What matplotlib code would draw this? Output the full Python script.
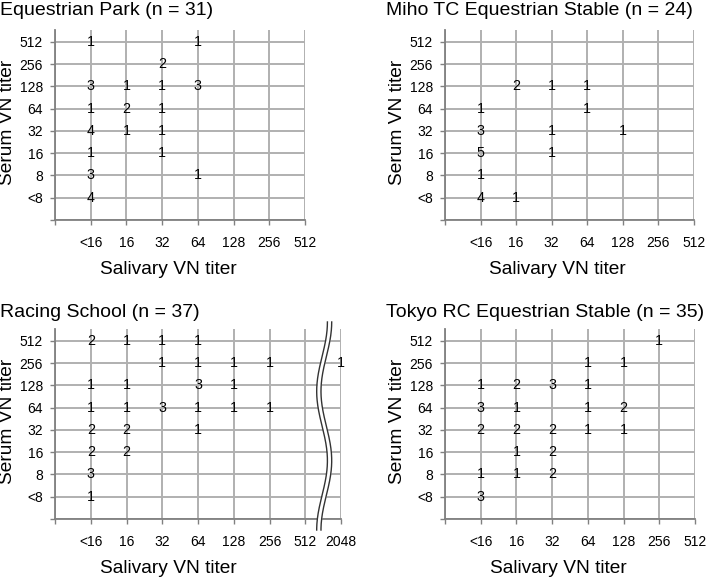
import numpy as np
import matplotlib
matplotlib.use('Agg')
import matplotlib.pyplot as plt
from matplotlib.transforms import blended_transform_factory

plt.rcParams['font.family'] = ['Liberation Sans', 'DejaVu Sans']

# Категории осей
serum_labels = ['<8', '8', '16', '32', '64', '128', '256', '512']
saliva_labels = ['<16', '16', '32', '64', '128', '256', '512']
saliva_labels_rs = ['<16', '16', '32', '64', '128', '256', '512', '2048']

# Данные: (слюна, сыворотка, количество)
park_title = 'Equestrian Park (n = 31)'
park_x = ['<16', '64', '32', '<16', '16', '32', '64', '<16', '16', '32',
          '<16', '16', '32', '<16', '32', '<16', '64', '<16']
park_y = ['512', '512', '256', '128', '128', '128', '128', '64', '64', '64',
          '32', '32', '32', '16', '16', '8', '8', '<8']
park_n = [1, 1, 2, 3, 1, 1, 3, 1, 2, 1, 4, 1, 1, 1, 1, 3, 1, 4]

miho_title = 'Miho TC Equestrian Stable (n = 24)'
miho_x = ['16', '32', '64', '<16', '64', '<16', '32', '128', '<16', '32', '<16', '<16', '16']
miho_y = ['128', '128', '128', '64', '64', '32', '32', '32', '16', '16', '8', '<8', '<8']
miho_n = [2, 1, 1, 1, 1, 3, 1, 1, 5, 1, 1, 4, 1]

school_title = 'Racing School (n = 37)'
school_x = ['<16', '16', '32', '64',
            '32', '64', '128', '256', '2048',
            '<16', '16', '64', '128',
            '<16', '16', '32', '64', '128', '256',
            '<16', '16', '64',
            '<16', '16', '<16', '<16']
school_y = ['512', '512', '512', '512',
            '256', '256', '256', '256', '256',
            '128', '128', '128', '128',
            '64', '64', '64', '64', '64', '64',
            '32', '32', '32',
            '16', '16', '8', '<8']
school_n = [2, 1, 1, 1,
            1, 1, 1, 1, 1,
            1, 1, 3, 1,
            1, 1, 3, 1, 1, 1,
            2, 2, 1,
            2, 2, 3, 1]

tokyo_title = 'Tokyo RC Equestrian Stable (n = 35)'
tokyo_x = ['256', '64', '128',
           '<16', '16', '32', '64',
           '<16', '16', '64', '128',
           '<16', '16', '32', '64', '128',
           '16', '32', '<16', '16', '32', '<16']
tokyo_y = ['512', '256', '256',
           '128', '128', '128', '128',
           '64', '64', '64', '64',
           '32', '32', '32', '32', '32',
           '16', '16', '8', '8', '8', '<8']
tokyo_n = [1, 1, 1,
           1, 2, 3, 1,
           3, 1, 1, 2,
           2, 2, 2, 1, 1,
           1, 2, 1, 1, 2, 3]

W, H = 708, 583
fig = plt.figure(figsize=(W / 100, H / 100), dpi=100)

grid_c = '#b0b0b0'
spine_c = '#808080'


def px_axes(left, top, right, bottom):
    return fig.add_axes([left / W, (H - bottom) / H, (right - left) / W, (bottom - top) / H])


def draw_panel(ax, xcats, xs, ys, ns):
    nx = len(xcats)
    ax.set_xlim(0, nx)
    ax.set_ylim(0, 8.53)
    ax.set_xticks(range(nx + 1))
    ax.set_xticklabels([''] + xcats)
    ax.set_yticks(range(9))
    ax.set_yticklabels([''] + serum_labels)
    ax.tick_params(axis='both', length=3.6, width=1, color=spine_c, labelsize=10)
    ax.tick_params(axis='x', pad=8)
    ax.tick_params(axis='y', pad=5)
    ax.grid(True, color=grid_c, linewidth=1.4)
    ax.set_axisbelow(True)
    for s in ['top', 'right']:
        ax.spines[s].set_visible(False)
    for s in ['left', 'bottom']:
        ax.spines[s].set_color(spine_c)
        ax.spines[s].set_linewidth(1.3)
    for x, y, n in zip(xs, ys, ns):
        ax.text(xcats.index(x) + 1, serum_labels.index(y) + 1, str(n),
                ha='center', va='center', fontsize=10.3, zorder=5, clip_on=False)
    tr = blended_transform_factory(ax.transData, ax.transAxes)
    ax.text(3.17, -0.258, 'Salivary VN titer', transform=tr,
            ha='center', va='center', fontsize=13.8)


panels = [
    (55, 30, 305, 220, saliva_labels, park_x, park_y, park_n, park_title, 0, 15, 8),
    (445, 30, 694, 220, saliva_labels, miho_x, miho_y, miho_n, miho_title, 386, 15, 397),
    (55, 329, 341, 519, saliva_labels_rs, school_x, school_y, school_n, school_title, 0, 317, 8),
    (445, 329, 695, 519, saliva_labels, tokyo_x, tokyo_y, tokyo_n, tokyo_title, 386, 317, 397),
]

axes = []
for (l, t, r, b, cats, xs, ys, ns, title, tx, ty, ylx) in panels:
    ax = px_axes(l, t, r, b)
    draw_panel(ax, cats, xs, ys, ns)
    fig.text(tx / W, (H - ty) / H, title, ha='left', va='baseline', fontsize=14)
    fig.text(ylx / W, (H - (t + b) / 2 + 3) / H, 'Serum VN titer', rotation=90,
             ha='center', va='center', fontsize=13.8)
    axes.append(ax)

# Разрыв оси на панели Racing School
ax = axes[2]
t = np.linspace(0, 1, 200)
yy = 1.037 - t * (1.037 + 0.058)
xc = 7.53 + 0.15 * np.cos(3 * np.pi * t)
tr = blended_transform_factory(ax.transData, ax.transAxes)
ax.fill_betweenx(yy, xc - 0.06, xc + 0.06, color='white', transform=tr,
                 zorder=4, clip_on=False, linewidth=0)
for off in (-0.06, 0.06):
    ax.plot(xc + off, yy, color='#333333', linewidth=1.0, transform=tr,
            zorder=4.5, clip_on=False)

fig.savefig('out.png', dpi=100)
